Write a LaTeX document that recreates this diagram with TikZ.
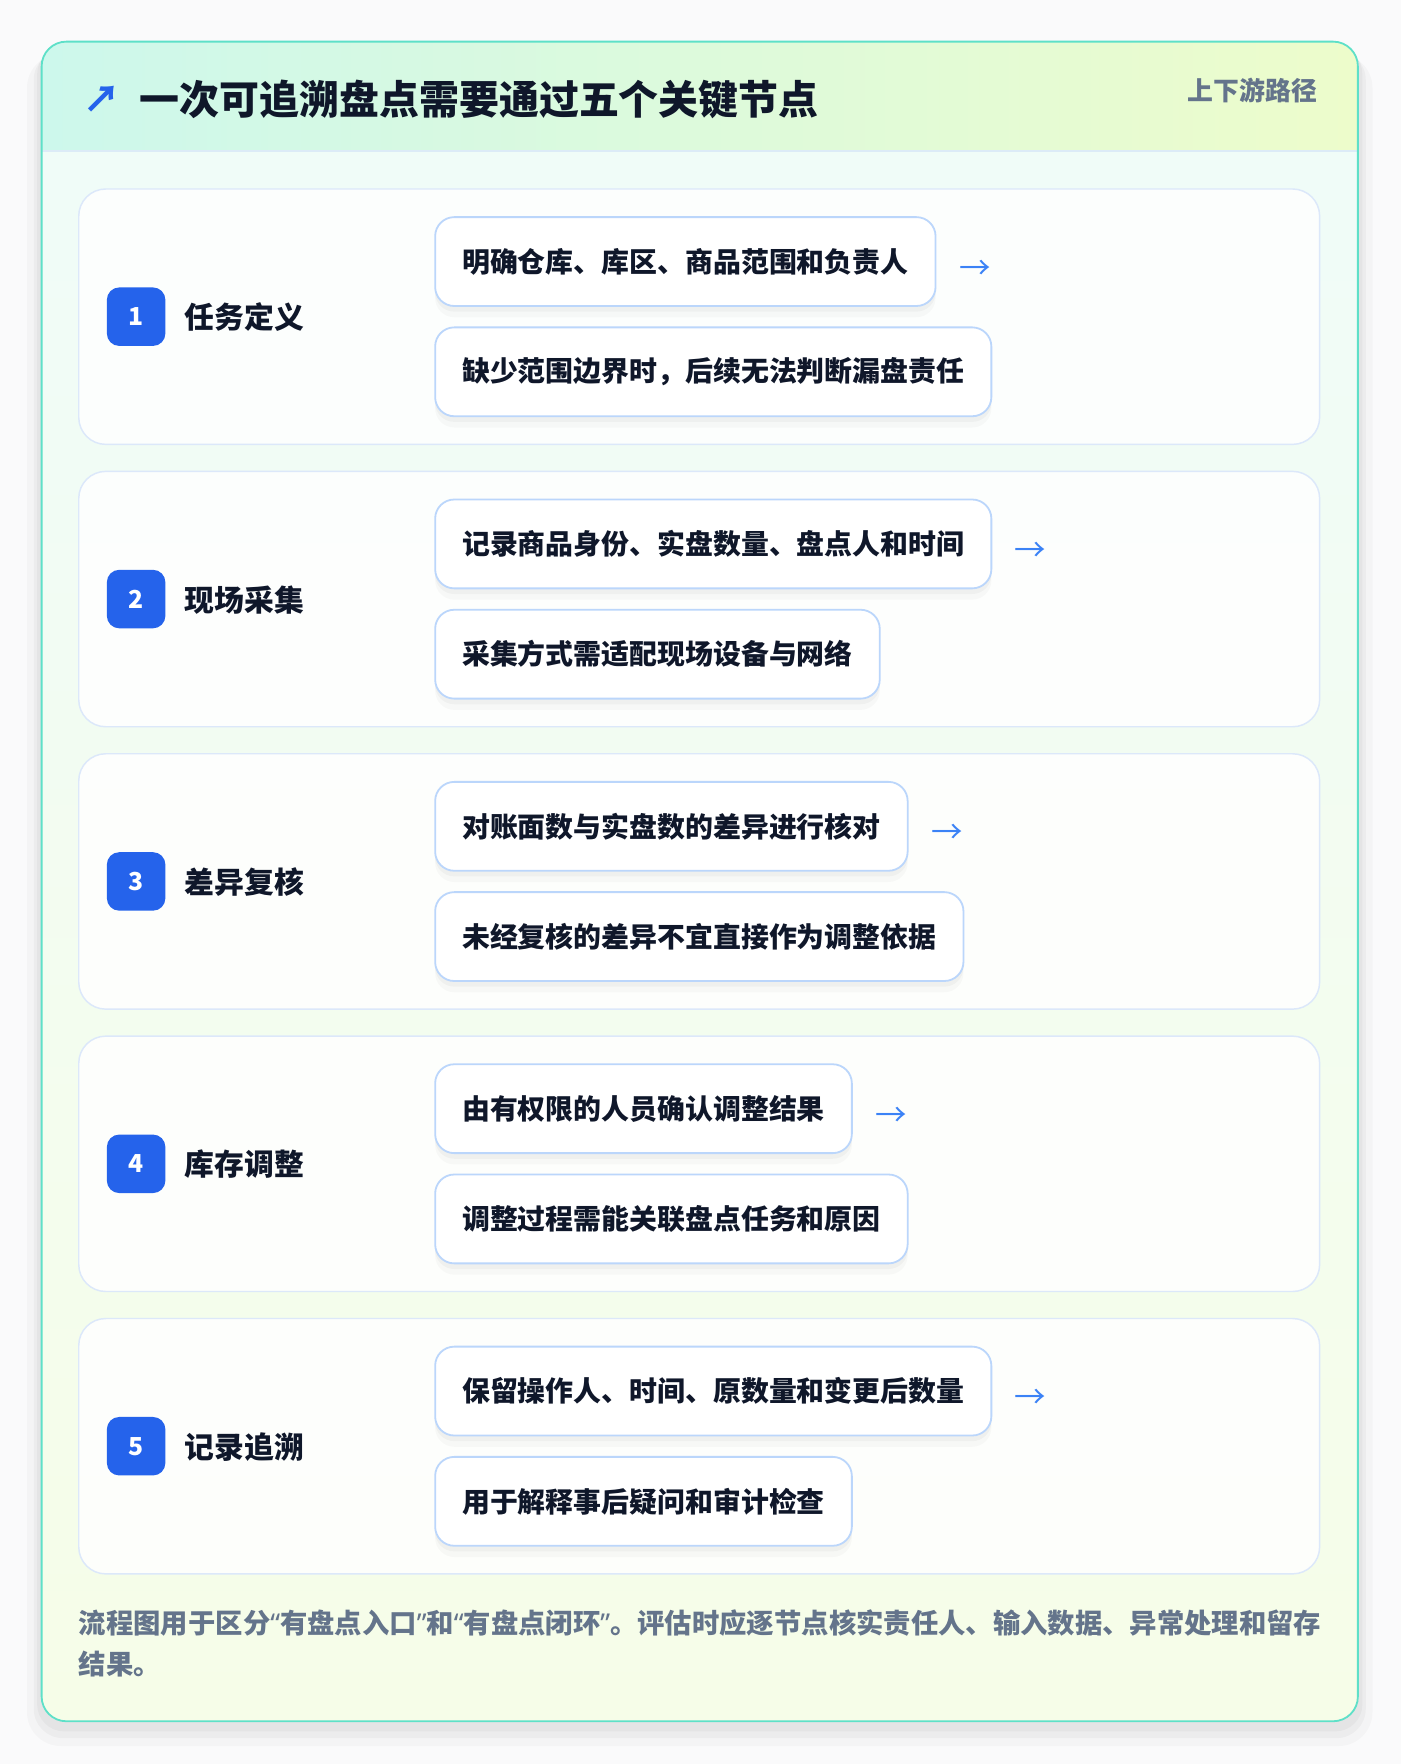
\documentclass[tikz,border=0pt]{standalone}
\usepackage{fontspec}
\setmainfont{Noto Sans CJK SC}
\newfontfamily\latinq{Noto Sans}
\newcommand{\myLQ}{{\latinq“}}
\newcommand{\myRQ}{{\latinq”}}
\definecolor{bgc}{HTML}{FAFAFB}
\definecolor{teal}{HTML}{5EE0C8}
\definecolor{hdl}{HTML}{CDF8EC}
\definecolor{hdr}{HTML}{EDFCCB}
\definecolor{bdt}{HTML}{F0FCF8}
\definecolor{bdb}{HTML}{F6FDE8}
\definecolor{hline}{HTML}{DCEBF7}
\definecolor{cardb}{HTML}{DCE8FA}
\definecolor{subb}{HTML}{BBD6FB}
\definecolor{badge}{HTML}{2563EB}
\definecolor{ink}{HTML}{0F172A}
\definecolor{gray}{HTML}{64748B}
\definecolor{arrowc}{HTML}{3B82F6}
\begin{document}
\begin{tikzpicture}[x=1pt,y=-1pt,
  card/.style={draw=cardb, line width=1.3pt, fill=white, fill opacity=0.85, draw opacity=1, text opacity=1, rounded corners=24pt, minimum width=1103pt, minimum height=227pt, inner sep=0pt},
  badgebox/.style={fill=badge, rounded corners=11pt, minimum width=52pt, minimum height=52pt, inner sep=0pt, text=white, font=\fontsize{22}{22}\selectfont\bfseries},
  lab/.style={anchor=west, text=ink, inner sep=0pt, font=\fontsize{26.5}{26.5}\selectfont\bfseries},
  subbox/.style={draw=subb, line width=1.6pt, fill=white, rounded corners=17pt, minimum height=79pt, inner xsep=24pt, inner ysep=0pt, anchor=west, text=ink, font=\fontsize{24.8}{24.8}\selectfont\bfseries,
    preaction={fill=black, fill opacity=0.025, draw=none, transform canvas={yshift=-10pt}},
    preaction={fill=black, fill opacity=0.03, draw=none, transform canvas={yshift=-5pt}}},
  arr/.style={text=arrowc, inner sep=0pt, font=\fontsize{28}{28}\selectfont}
]
\useasboundingbox (0,0) rectangle (1245,1568);
\fill[bgc] (0,0) rectangle (1245,1568);
% outer card shadow
\fill[black, opacity=0.025, rounded corners=30pt] (24,48) rectangle (1220,1552);
\fill[black, opacity=0.03, rounded corners=26pt] (30,45) rectangle (1214,1545);
\fill[black, opacity=0.03, rounded corners=24pt] (33,42) rectangle (1211,1539);
\begin{scope}
  \clip[rounded corners=22pt] (37,37) rectangle (1207,1530);
  \shade[top color=bdt, bottom color=bdb] (37,134) rectangle (1207,1530);
  \shade[left color=hdl, right color=hdr] (37,37) rectangle (1207,134);
  \draw[hline, line width=1.5pt] (37,134) -- (1207,134);
\end{scope}
\draw[teal, line width=1.6pt, rounded corners=22pt] (37,37) rectangle (1207,1530);
% header
\node[text=badge, inner sep=0pt, font=\fontsize{33}{33}\selectfont\bfseries] (harrow) at (91,88) {↗};
\node[anchor=west, text=ink, inner sep=0pt, font=\fontsize{35.5}{35.5}\selectfont\bfseries] (title) at (124,88) {一次可追溯盘点需要通过五个关键节点};
\node[anchor=east, text=gray, inner sep=0pt, font=\fontsize{23}{23}\selectfont\bfseries] (tag) at (1171,80) {上下游路径};
% rows
\foreach \i/\lab/\ta/\tb in {
  1/任务定义/明确仓库、库区、商品范围和负责人/缺少范围边界时，后续无法判断漏盘责任,
  2/现场采集/记录商品身份、实盘数量、盘点人和时间/采集方式需适配现场设备与网络,
  3/差异复核/对账面数与实盘数的差异进行核对/未经复核的差异不宜直接作为调整依据,
  4/库存调整/由有权限的人员确认调整结果/调整过程需能关联盘点任务和原因,
  5/记录追溯/保留操作人、时间、原数量和变更后数量/用于解释事后疑问和审计检查}{
  \pgfmathsetmacro{\top}{168+251*(\i-1)}
  \node[card] (card\i) at (621.5,\top+113.5) {};
  \node[badgebox] (badge\i) at (121,\top+113.5) {\i};
  \node[lab] (label\i) at (164,\top+114) {\lab};
  \node[subbox] (sa\i) at (386,\top+64.5) {\ta};
  \node[subbox] (sb\i) at (386,\top+162.5) {\tb};
  \node[arr, anchor=west] (ar\i) at ([xshift=20pt,yshift=-7pt]sa\i.east) {→};
}
% footer
\node[anchor=north west, text=gray, inner sep=0pt, align=left, font=\fontsize{24.3}{36}\selectfont\bfseries] (foot) at (70,1431) {流程图用于区分\myLQ 有盘点入口\myRQ 和\myLQ 有盘点闭环\myRQ 。评估时应逐节点核实责任人、输入数据、异常处理和留存\\结果。};
\end{tikzpicture}
\end{document}
